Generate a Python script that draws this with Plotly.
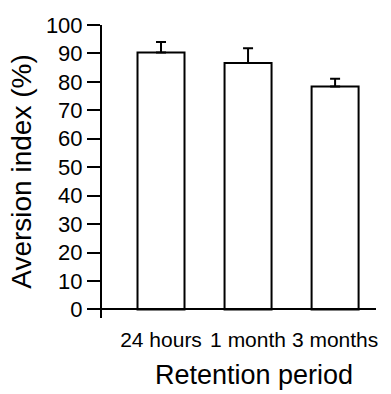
import plotly.graph_objects as go

categories = ["24 hours", "1 month", "3 months"]
values = [90.3, 86.6, 78.4]
errors = [3.7, 5.2, 2.7]
y_ticks = [0, 10, 20, 30, 40, 50, 60, 70, 80, 90, 100]

FONT = "Liberation Sans, Arial, sans-serif"
ymin, ymax = -3, 100

fig = go.Figure(go.Bar(
    x=list(range(len(categories))),
    y=values,
    width=0.54,
    marker=dict(color="white", line=dict(color="black", width=2)),
    error_y=dict(type="data", symmetric=False, array=errors,
                 arrayminus=[0] * len(errors),
                 color="black", thickness=2, width=5),
))

fig.update_layout(
    width=391, height=394,
    margin=dict(l=102, r=15, t=25, b=75.5),
    paper_bgcolor="white", plot_bgcolor="white",
    showlegend=False,
    font=dict(family=FONT, color="black", size=22),
    xaxis=dict(
        range=[-0.678, 2.47],
        tickmode="array", tickvals=list(range(len(categories))), ticktext=categories,
        showline=True, linecolor="black", linewidth=2,
        anchor="free", position=(0 - ymin) / (ymax - ymin),
        ticks="outside", ticklen=11, tickcolor="rgba(0,0,0,0)",
        showgrid=False, zeroline=False,
        tickfont=dict(size=21, family=FONT),
    ),
    yaxis=dict(
        range=[ymin, ymax],
        tickmode="array", tickvals=y_ticks,
        showline=True, linecolor="black", linewidth=2,
        ticks="outside", ticklen=13, tickwidth=2, tickcolor="black",
        showgrid=False, zeroline=False,
        tickfont=dict(size=22, family=FONT),
        title=dict(text="Aversion index (%)", font=dict(size=28, family=FONT), standoff=6),
    ),
    annotations=[dict(
        text="Retention period", xref="paper", yref="paper",
        x=0.555, y=-0.2538, xanchor="center", yanchor="bottom",
        showarrow=False, font=dict(size=27, family=FONT),
    )],
)

fig.write_html("out.html")
